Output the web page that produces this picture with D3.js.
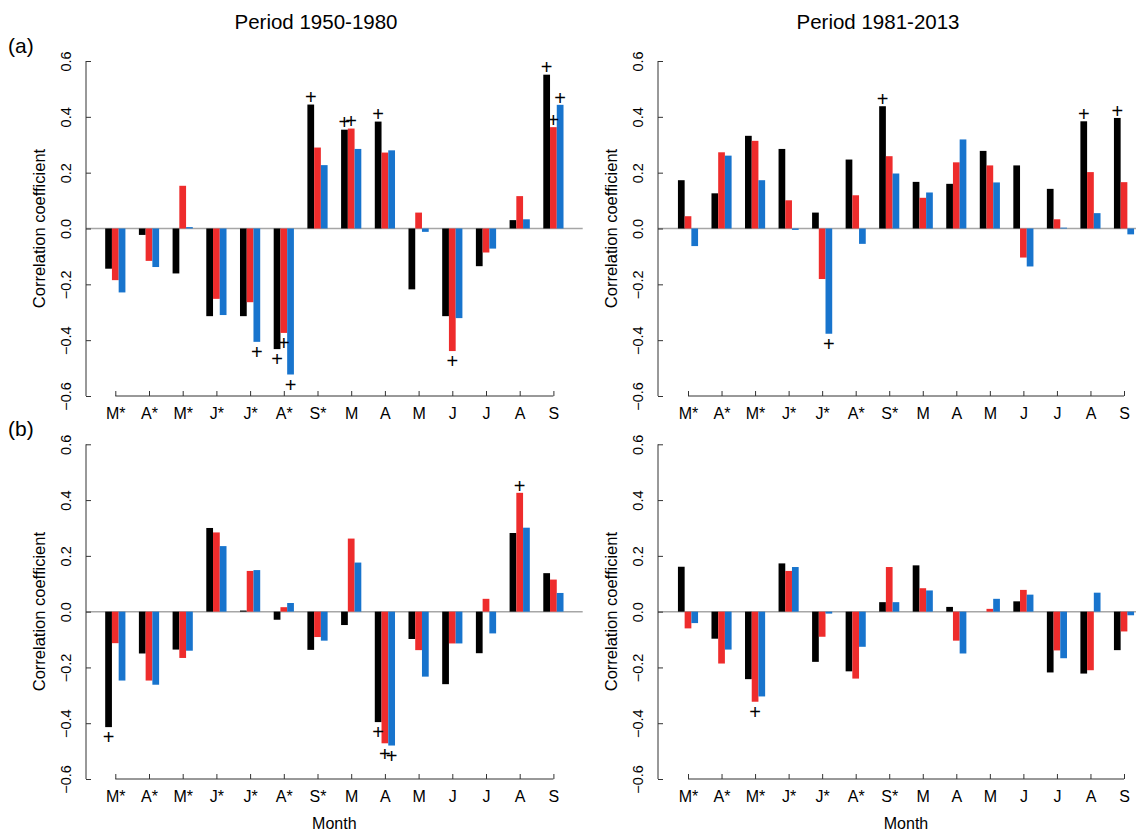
<!DOCTYPE html>
<html>
<head>
<meta charset="utf-8">
<script src="https://cdn.jsdelivr.net/npm/d3@7"></script>
<style>
  body { margin: 0; background: #fff; }
  svg { font-family: "Liberation Sans", Arial, sans-serif; }
</style>
</head>
<body>
<svg id="chart" width="1136" height="833"></svg>
<script>
// month labels (May-Sep of previous year marked with *)
var months = ["M*", "A*", "M*", "J*", "J*", "A*", "S*", "M", "A", "M", "J", "J", "A", "S"];
var yTicks = [-0.6, -0.4, -0.2, 0.0, 0.2, 0.4, 0.6];
var periods = ["Period 1950-1980", "Period 1981-2013"];
var seriesColors = ["#000000", "#ee2c2c", "#1874cd"];

// (a) 1950-1980
var a1950Black = [-0.144, -0.023, -0.161, -0.314, -0.314, -0.432, 0.444, 0.354, 0.383, -0.218, -0.314, -0.135, 0.030, 0.551];
var a1950Red   = [-0.185, -0.116, 0.153, -0.252, -0.264, -0.374, 0.290, 0.358, 0.272, 0.057, -0.439, -0.086, 0.116, 0.363];
var a1950Blue  = [-0.229, -0.138, 0.005, -0.310, -0.406, -0.523, 0.227, 0.285, 0.280, -0.012, -0.321, -0.072, 0.033, 0.443];
var a1950Sig   = [[4, 2], [5, 0], [5, 1], [5, 2], [6, 0], [7, 0], [7, 1], [8, 0], [10, 1], [13, 0], [13, 1], [13, 2]];

// (a) 1981-2013
var a1981Black = [0.173, 0.126, 0.332, 0.285, 0.057, 0.247, 0.438, 0.167, 0.160, 0.278, 0.226, 0.142, 0.384, 0.396];
var a1981Red   = [0.044, 0.273, 0.314, 0.101, -0.181, 0.119, 0.259, 0.110, 0.237, 0.226, -0.104, 0.033, 0.202, 0.166];
var a1981Blue  = [-0.063, 0.261, 0.173, -0.005, -0.377, -0.055, 0.197, 0.129, 0.319, 0.165, -0.136, 0.003, 0.055, -0.021];
var a1981Sig   = [[4, 2], [6, 0], [12, 0], [13, 0]];

// (b) 1950-1980
var b1950Black = [-0.414, -0.150, -0.136, 0.300, 0.004, -0.029, -0.137, -0.048, -0.396, -0.098, -0.260, -0.149, 0.282, 0.138];
var b1950Red   = [-0.113, -0.247, -0.166, 0.284, 0.146, 0.016, -0.091, 0.262, -0.472, -0.138, -0.114, 0.046, 0.426, 0.115];
var b1950Blue  = [-0.247, -0.262, -0.140, 0.235, 0.149, 0.031, -0.104, 0.176, -0.480, -0.233, -0.114, -0.078, 0.301, 0.067];
var b1950Sig   = [[0, 0], [8, 0], [8, 1], [8, 2], [12, 1]];

// (b) 1981-2013
var b1981Black = [0.161, -0.097, -0.242, 0.173, -0.180, -0.214, 0.034, 0.166, 0.017, 0.000, 0.037, -0.218, -0.222, -0.138];
var b1981Red   = [-0.060, -0.186, -0.323, 0.146, -0.090, -0.240, 0.160, 0.084, -0.104, 0.010, 0.078, -0.139, -0.210, -0.071];
var b1981Blue  = [-0.041, -0.136, -0.304, 0.160, -0.007, -0.126, 0.034, 0.076, -0.150, 0.046, 0.061, -0.167, 0.068, -0.013];
var b1981Sig   = [[2, 1]];

var panels = [
  {series: [a1950Black, a1950Red, a1950Blue], sig: a1950Sig, left: 86, top: 61, bottom: 396, first: 115.3, last: 553.4, tag: "(a)", title: periods[0], titleX: 316, xlab: false},
  {series: [a1981Black, a1981Red, a1981Blue], sig: a1981Sig, left: 658, top: 61, bottom: 396, first: 688, last: 1124, tag: null, title: periods[1], titleX: 878, xlab: false},
  {series: [b1950Black, b1950Red, b1950Blue], sig: b1950Sig, left: 86, top: 444.3, bottom: 779, first: 115.3, last: 553.4, tag: "(b)", title: null, xlab: true},
  {series: [b1981Black, b1981Red, b1981Blue], sig: b1981Sig, left: 658, top: 444.3, bottom: 779, first: 688, last: 1124, tag: null, title: null, xlab: true}
];

var svg = d3.select("#chart");

panels.forEach(function(p){
  var g = svg.append("g");

  // scales
  var step = (p.last - p.first) / (months.length - 1);
  var x = d3.scalePoint().domain(d3.range(months.length)).range([p.first, p.last]);
  var y = d3.scaleLinear().domain([-0.6, 0.6]).range([p.bottom, p.top]);
  var groupW = step * 0.6;
  var xs = d3.scaleBand().domain([0, 1, 2]).range([-groupW / 2, groupW / 2]).padding(0);

  // zero line
  g.append("line")
    .attr("x1", p.left).attr("x2", p.last + (p.first - p.left))
    .attr("y1", y(0)).attr("y2", y(0))
    .attr("stroke", "#a6a6a6").attr("stroke-width", 1.5);

  // bars
  p.series.forEach(function(vals, si){
    g.append("g").selectAll("rect")
      .data(vals)
      .enter()
      .append("rect")
      .attr("x", function(d, i){ return x(i) + xs(si); })
      .attr("width", xs.bandwidth())
      .attr("y", function(d){ return y(Math.max(0, d)); })
      .attr("height", function(d){ return Math.abs(y(d) - y(0)); })
      .attr("fill", seriesColors[si]);
  });

  // significance markers
  g.append("g").selectAll("text")
    .data(p.sig)
    .enter()
    .append("text")
    .attr("x", function(d){ return x(d[0]) + xs(d[1]) + xs.bandwidth() / 2; })
    .attr("y", function(d){
      var v = p.series[d[1]][d[0]];
      return v >= 0 ? y(v) - 7 : y(v) + 10.5;
    })
    .attr("dy", "0.34em")
    .attr("text-anchor", "middle")
    .attr("fill", "#000")
    .style("font-size", "20px")
    .text("+");

  // y axis
  var yAxis = d3.axisLeft(y).tickValues(yTicks).tickSize(-5).tickPadding(15)
    .tickFormat(function(d){ return d3.format(".1f")(d).replace("-", "\u2212"); });
  var ya = g.append("g").attr("transform", "translate(" + p.left + ",0)").call(yAxis);
  ya.select(".domain").attr("d", "M0," + y(0.6) + "V" + y(-0.6)).attr("stroke", "#333");
  ya.selectAll("line").attr("stroke", "#333");
  ya.selectAll("text")
    .attr("transform", "translate(-15,0) rotate(-90)")
    .attr("x", 0).attr("y", 0).attr("dy", 0)
    .attr("text-anchor", "middle")
    .style("font-size", "14.5px").attr("fill", "#000");

  // x axis
  var xAxis = d3.axisBottom(x).tickSize(-5).tickPadding(12).tickFormat(function(i){ return months[i]; });
  var xa = g.append("g").attr("transform", "translate(0," + p.bottom + ")").call(xAxis);
  xa.select(".domain").attr("d", "M" + p.first + ",0H" + p.last).attr("stroke", "#333");
  xa.selectAll("line").attr("stroke", "#333");
  xa.selectAll("text").style("font-size", "16px").attr("fill", "#000");

  // axis title
  g.append("text")
    .attr("transform", "translate(" + (p.left - 41) + "," + ((p.top + p.bottom) / 2) + ") rotate(-90)")
    .attr("text-anchor", "middle")
    .style("font-size", "16.5px")
    .text("Correlation coefficient");

  if (p.xlab) {
    g.append("text")
      .attr("x", (p.first + p.last) / 2).attr("y", 829)
      .attr("text-anchor", "middle")
      .style("font-size", "16px")
      .text("Month");
  }
  if (p.title) {
    g.append("text")
      .attr("x", p.titleX).attr("y", 29)
      .attr("text-anchor", "middle")
      .style("font-size", "20.5px")
      .text(p.title);
  }
  if (p.tag) {
    g.append("text")
      .attr("x", 8).attr("y", p.top - 8)
      .style("font-size", "21px")
      .text(p.tag);
  }
});
</script>
</body>
</html>
